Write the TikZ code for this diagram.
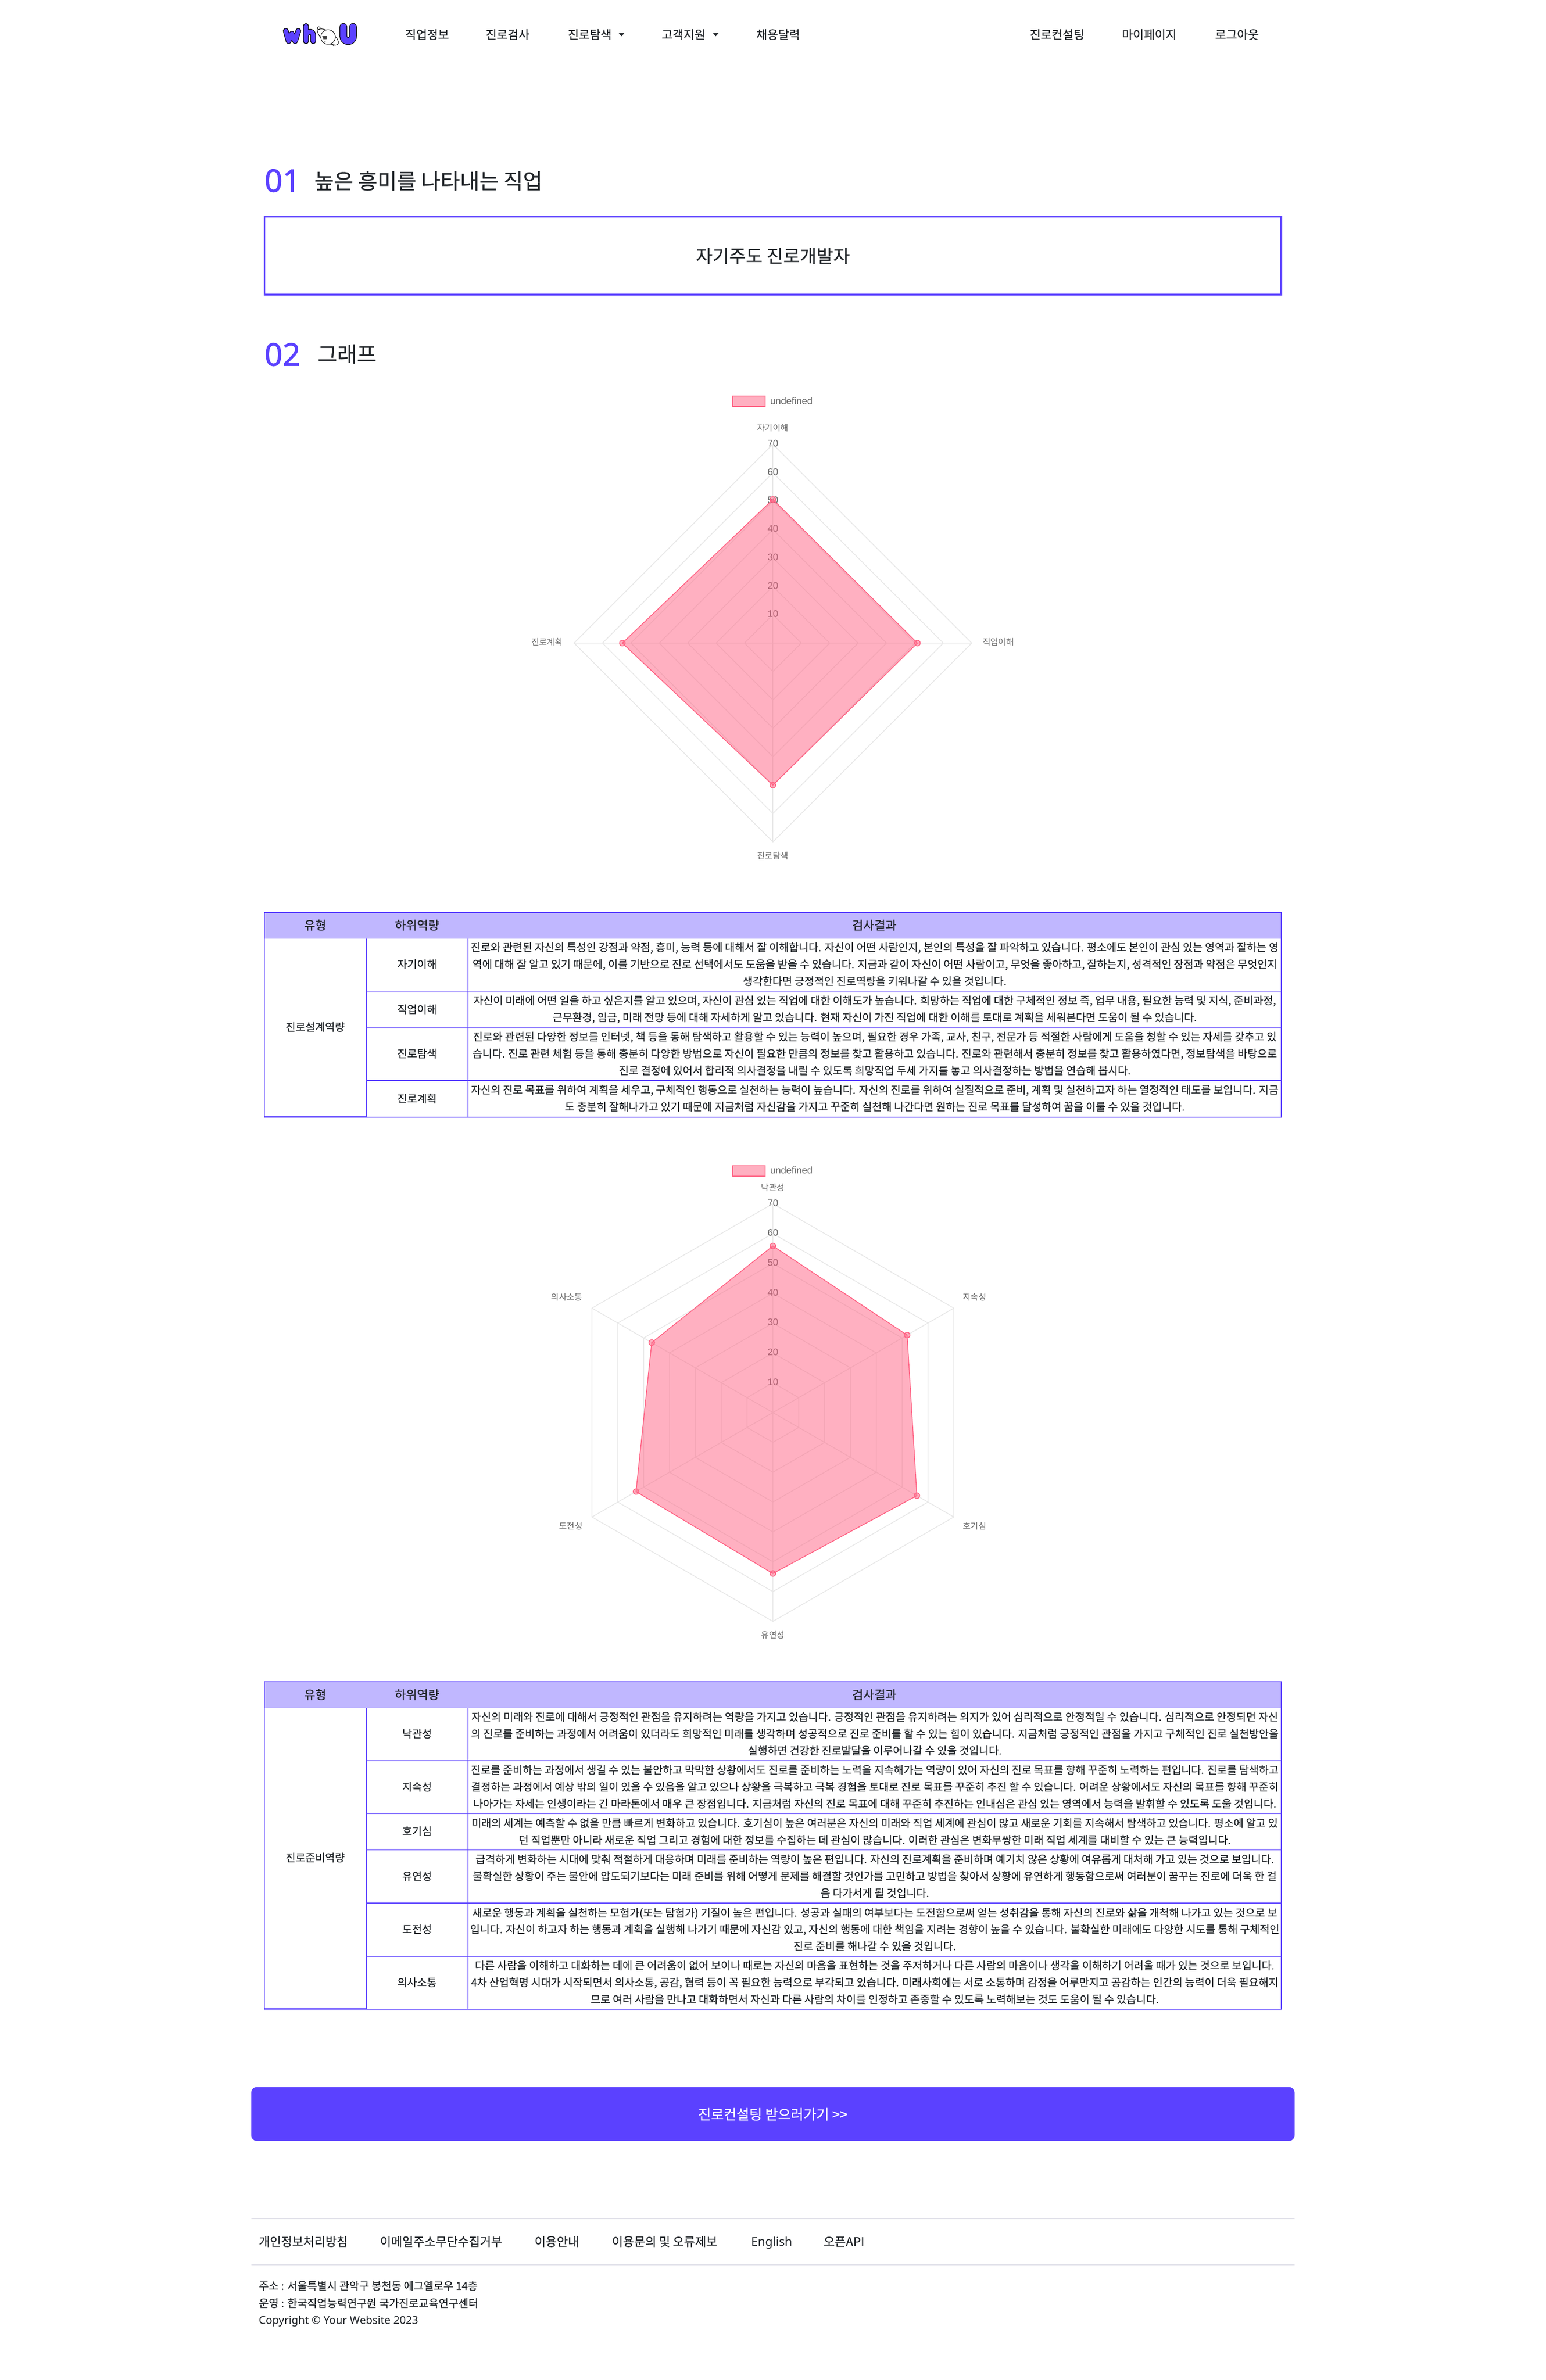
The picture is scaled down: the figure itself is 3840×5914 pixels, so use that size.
\documentclass[tikz,border=0pt]{standalone}
\usepackage{fontspec}
\setmainfont{Noto Sans}
\newfontfamily\kr{Noto Sans CJK KR}
\newfontfamily\krt[FakeBold=0.25]{Noto Sans CJK KR}
\newfontfamily\krm[FakeBold=0.6]{Noto Sans CJK KR}
\newfontfamily\lat{Noto Sans}
\newfontfamily\latm[FakeBold=1.4]{Noto Sans}
\newfontfamily\arl{Liberation Sans}
\definecolor{pur}{HTML}{5B41FF}
\definecolor{hdr}{HTML}{C0B7FF}
\definecolor{ink}{HTML}{212529}
\definecolor{pnk}{HTML}{FF6384}
\definecolor{grd}{HTML}{E8E8E8}
\definecolor{lbl}{HTML}{666666}
\definecolor{ftl}{HTML}{E2E2EA}
\tikzset{
  x=1pt,y=-1pt,
  fs/.style={font=\kr\fontsize{#1}{#1}\selectfont,inner sep=0pt,outer sep=0pt,text=ink,text height={#1*0.85pt},text depth={#1*0.11pt}},
  fst/.style={font=\krt\fontsize{#1}{#1}\selectfont,inner sep=0pt,outer sep=0pt,text=ink,text height={#1*0.85pt},text depth={#1*0.11pt}},
  fsm/.style={font=\krm\fontsize{#1}{#1}\selectfont,inner sep=0pt,outer sep=0pt,text=ink,text height={#1*0.85pt},text depth={#1*0.11pt}},
  tline/.style={fst=26.6},
  midl/.style={fst=26.6},
  hd/.style={fsm=30},
  navi/.style={fsm=29.5},
  foot/.style={fst=30,anchor=west},
  addr/.style={fst=26.8,anchor=west},
  clab/.style={font=\kr\fontsize{21}{21}\selectfont,inner sep=0pt,text=lbl},
  ctick/.style={font=\arl\fontsize{24}{24}\selectfont,inner sep=0pt,text=lbl},
  gridl/.style={draw=grd,line width=2pt},
  dataf/.style={draw=pnk,fill=pnk,fill opacity=.5,line width=2pt,line join=round},
  ptm/.style={circle,minimum size=14pt,inner sep=0pt,draw=pnk,fill=pnk,fill opacity=.5,line width=2pt},
  legb/.style={draw=pnk,fill=pnk,fill opacity=.5,line width=2pt},
  rule/.style={draw=pur,line width=2pt},
  thick rule/.style={draw=pur,line width=4pt},
  logoout/.style={draw=black,line cap=round,line join=round},
  logoin/.style={draw=pur,line cap=round,line join=round},
  logothin/.style={draw=black,line width=1.2pt},
}
\begin{document}
\begin{tikzpicture}
\useasboundingbox (0,0) rectangle (3840,5914);
\fill[white] (0,0) rectangle (3840,5914);
% logo
\foreach \st/\wa/\wb in {logoout/14/19,logoin/11/16}{
  \draw[\st,line width=\wa pt] (710,77) -- (717,102) -- (725,84) -- (733,102) -- (741,77);
  \draw[\st,line width=\wa pt] (760,65) -- (760,102) (760,88) .. controls (764,76) and (778,76) .. (778,88) -- (778,102);
  \draw[\st,line width=\wb pt] (853,67) -- (853,90) .. controls (853,106) and (877,106) .. (877,90) -- (877,67);
}
\draw[logothin,rotate around={-35:(815,92)}] (815,92) ellipse (30 and 13);
\draw[logothin,fill=white] (815,92) circle (18);
\foreach \d in {0,3,6,9,12} \draw[logothin] (801+\d*.3,90+\d) -- (812-\d*.2,90+\d);
\draw[logothin] (792,70) circle (3.5);
\draw[logothin] (828,111) circle (2);
% nav
\node[navi] (n1) at (1061,86) {직업정보};
\node[navi] (n2) at (1261,86) {진로검사};
\node[navi] (n3) at (1465,86) {진로탐색};
\node[navi] (n4) at (1698,86) {고객지원};
\node[navi] (n5) at (1933,86) {채용달력};
\node[navi] (n6) at (2626,86) {진로컨설팅};
\node[navi] (n7) at (2855,86) {마이페이지};
\node[navi] (n8) at (3073,86) {로그아웃};
\fill[ink] (1537,82) -- (1551,82) -- (1544,90) -- cycle;
\fill[ink] (1771,82) -- (1785,82) -- (1778,90) -- cycle;
% headings
\node[font=\latm\fontsize{78}{78}\selectfont,text=pur,inner sep=0pt,anchor=west] (h1n) at (657,449) {01};
\node[fsm=52.5,anchor=west] (h1t) at (781,450) {높은 흥미를 나타내는 직업};
\draw[thick rule] (657,538) rectangle (3183,732);
\node[fst=45] (job) at (1920,636) {자기주도 진로개발자};
\node[font=\latm\fontsize{78}{78}\selectfont,text=pur,inner sep=0pt,anchor=west] (h2n) at (657,881) {02};
\node[fsm=53,anchor=west] (h2t) at (789,880) {그래프};
% chart 1
\begin{scope}[shift={(1920,1598)}]
\foreach \r in {70.6,141.1,211.7,282.3,352.9,423.4,494}
  \draw[gridl] (0,-\r) -- (\r,0) -- (0,\r) -- (-\r,0) -- cycle;
\draw[gridl] (0,-494) -- (0,494) (-494,0) -- (494,0);
\foreach \v/\r in {10/70.6,20/141.1,30/211.7,40/282.3,50/352.9,60/423.4,70/494}
  \node[ctick] (ca\v) at (0,-\r-2) {\v};
\coordinate (a1) at (0,-357);
\coordinate (a2) at (359,0);
\coordinate (a3) at (0,353);
\coordinate (a4) at (-374,0);
\draw[dataf] (a1) -- (a2) -- (a3) -- (a4) -- cycle;
\foreach \p in {a1,a2,a3,a4} \node[ptm] at (\p) {};
\end{scope}
\node[clab] (cal1) at (1920,1063) {자기이해};
\node[clab] (cal2) at (2480,1595) {직업이해};
\node[clab] (cal3) at (1920,2127) {진로탐색};
\node[clab] (cal4) at (1359,1595) {진로계획};
\path[legb] (1820,984) rectangle (1901,1010);
\node[ctick,anchor=west] (leg1) at (1913,996) {undefined};
% table 1
\fill[hdr] (657,2267) rectangle (3183,2332);
\draw[rule] (657,2267) -- (3183,2267) -- (3183,2776) -- (911,2776);
\draw[rule] (657,2267) -- (657,2776);
\draw[draw=pur,line width=3.5pt] (657,2775) -- (911,2775);
\draw[rule] (911,2332) -- (911,2776) (1163,2332) -- (1163,2776);
\foreach \y in {2463,2553,2685} \draw[rule] (911,\y) -- (3183,\y);
\node[hd] (t1h1) at (783,2299) {유형};
\node[hd] (t1h2) at (1036,2299) {하위역량};
\node[hd] (t1h3) at (2172,2299) {검사결과};
\node[midl] (t1a) at (783,2552) {진로설계역량};
\node[midl] (t1b1) at (1036,2396) {자기이해};
\node[midl] (t1b2) at (1036,2508) {직업이해};
\node[midl] (t1b3) at (1036,2618) {진로탐색};
\node[midl] (t1b4) at (1036,2730) {진로계획};
\node[tline] (l1) at (2173,2354) {진로와 관련된 자신의 특성인 강점과 약점, 흥미, 능력 등에 대해서 잘 이해합니다. 자신이 어떤 사람인지, 본인의 특성을 잘 파악하고 있습니다. 평소에도 본인이 관심 있는 영역과 잘하는 영};
\node[tline] (l2) at (2173,2396) {역에 대해 잘 알고 있기 때문에, 이를 기반으로 진로 선택에서도 도움을 받을 수 있습니다. 지금과 같이 자신이 어떤 사람이고, 무엇을 좋아하고, 잘하는지, 성격적인 장점과 약점은 무엇인지};
\node[tline] (l3) at (2173,2438) {생각한다면 긍정적인 진로역량을 키워나갈 수 있을 것입니다.};
\node[tline] (l4) at (2173,2486) {자신이 미래에 어떤 일을 하고 싶은지를 알고 있으며, 자신이 관심 있는 직업에 대한 이해도가 높습니다. 희망하는 직업에 대한 구체적인 정보 즉, 업무 내용, 필요한 능력 및 지식, 준비과정,};
\node[tline] (l5) at (2173,2528) {근무환경, 임금, 미래 전망 등에 대해 자세하게 알고 있습니다. 현재 자신이 가진 직업에 대한 이해를 토대로 계획을 세워본다면 도움이 될 수 있습니다.};
\node[tline] (l6) at (2173,2576) {진로와 관련된 다양한 정보를 인터넷, 책 등을 통해 탐색하고 활용할 수 있는 능력이 높으며, 필요한 경우 가족, 교사, 친구, 전문가 등 적절한 사람에게 도움을 청할 수 있는 자세를 갖추고 있};
\node[tline] (l7) at (2173,2618) {습니다. 진로 관련 체험 등을 통해 충분히 다양한 방법으로 자신이 필요한 만큼의 정보를 찾고 활용하고 있습니다. 진로와 관련해서 충분히 정보를 찾고 활용하였다면, 정보탐색을 바탕으로};
\node[tline] (l8) at (2173,2660) {진로 결정에 있어서 합리적 의사결정을 내릴 수 있도록 희망직업 두세 가지를 놓고 의사결정하는 방법을 연습해 봅시다.};
\node[tline] (l9) at (2173,2708) {자신의 진로 목표를 위하여 계획을 세우고, 구체적인 행동으로 실천하는 능력이 높습니다. 자신의 진로를 위하여 실질적으로 준비, 계획 및 실천하고자 하는 열정적인 태도를 보입니다. 지금};
\node[tline] (l10) at (2173,2750) {도 충분히 잘해나가고 있기 때문에 지금처럼 자신감을 가지고 꾸준히 실천해 나간다면 원하는 진로 목표를 달성하여 꿈을 이룰 수 있을 것입니다.};
% chart 2
\begin{scope}[shift={(1920,3510)}]
\foreach \r in {74.1,148.3,222.4,296.6,370.7,444.9,519}
  \draw[gridl] (0,-\r) -- ({.866*\r},{-.5*\r}) -- ({.866*\r},{.5*\r}) -- (0,\r) -- ({-.866*\r},{.5*\r}) -- ({-.866*\r},{-.5*\r}) -- cycle;
\draw[gridl] (0,-519) -- (0,519) (-449.5,-259.5) -- (449.5,259.5) (449.5,-259.5) -- (-449.5,259.5);
\foreach \v/\r in {10/74.1,20/148.3,30/222.4,40/296.6,50/370.7,60/444.9,70/519}
  \node[ctick] (cb\v) at (0,-\r-2) {\v};
\coordinate (b1) at (0,-414);
\coordinate (b2) at (333.4,-192.5);
\coordinate (b3) at (357.7,206.5);
\coordinate (b4) at (0,400);
\coordinate (b5) at (-340,196.3);
\coordinate (b6) at (-301,-173.8);
\draw[dataf] (b1) -- (b2) -- (b3) -- (b4) -- (b5) -- (b6) -- cycle;
\foreach \p in {b1,b2,b3,b4,b5,b6} \node[ptm] at (\p) {};
\end{scope}
\node[clab] (cbl1) at (1920,2951) {낙관성};
\node[clab] (cbl2) at (2421,3223) {지속성};
\node[clab] (cbl3) at (2421,3792) {호기심};
\node[clab] (cbl4) at (1920,4063) {유연성};
\node[clab] (cbl5) at (1418,3792) {도전성};
\node[clab] (cbl6) at (1408,3223) {의사소통};
\path[legb] (1820,2897) rectangle (1901,2923);
\node[ctick,anchor=west] (leg2) at (1913,2908) {undefined};
% table 2
\fill[hdr] (657,4179) rectangle (3183,4244);
\draw[rule] (657,4179) -- (3183,4179) -- (3183,4993) -- (911,4993);
\draw[rule] (657,4179) -- (657,4993);
\draw[draw=pur,line width=3.5pt] (657,4992) -- (911,4992);
\draw[rule] (911,4244) -- (911,4993) (1163,4244) -- (1163,4993);
\foreach \y in {4375,4507,4597,4729,4861} \draw[rule] (911,\y) -- (3183,\y);
\node[hd] (t2h1) at (783,4211) {유형};
\node[hd] (t2h2) at (1036,4211) {하위역량};
\node[hd] (t2h3) at (2172,4211) {검사결과};
\node[midl] (t2a) at (783,4616) {진로준비역량};
\node[midl] (t2b1) at (1036,4308) {낙관성};
\node[midl] (t2b2) at (1036,4440) {지속성};
\node[midl] (t2b3) at (1036,4550) {호기심};
\node[midl] (t2b4) at (1036,4662) {유연성};
\node[midl] (t2b5) at (1036,4794) {도전성};
\node[midl] (t2b6) at (1036,4926) {의사소통};
\node[tline] (m1) at (2173,4266) {자신의 미래와 진로에 대해서 긍정적인 관점을 유지하려는 역량을 가지고 있습니다. 긍정적인 관점을 유지하려는 의지가 있어 심리적으로 안정적일 수 있습니다. 심리적으로 안정되면 자신};
\node[tline] (m2) at (2173,4308) {의 진로를 준비하는 과정에서 어려움이 있더라도 희망적인 미래를 생각하며 성공적으로 진로 준비를 할 수 있는 힘이 있습니다. 지금처럼 긍정적인 관점을 가지고 구체적인 진로 실천방안을};
\node[tline] (m3) at (2173,4350) {실행하면 건강한 진로발달을 이루어나갈 수 있을 것입니다.};
\node[tline] (m4) at (2173,4398) {진로를 준비하는 과정에서 생길 수 있는 불안하고 막막한 상황에서도 진로를 준비하는 노력을 지속해가는 역량이 있어 자신의 진로 목표를 향해 꾸준히 노력하는 편입니다. 진로를 탐색하고};
\node[tline] (m5) at (2173,4440) {결정하는 과정에서 예상 밖의 일이 있을 수 있음을 알고 있으나 상황을 극복하고 극복 경험을 토대로 진로 목표를 꾸준히 추진 할 수 있습니다. 어려운 상황에서도 자신의 목표를 향해 꾸준히};
\node[tline] (m6) at (2173,4482) {나아가는 자세는 인생이라는 긴 마라톤에서 매우 큰 장점입니다. 지금처럼 자신의 진로 목표에 대해 꾸준히 추진하는 인내심은 관심 있는 영역에서 능력을 발휘할 수 있도록 도울 것입니다.};
\node[tline] (m7) at (2173,4530) {미래의 세계는 예측할 수 없을 만큼 빠르게 변화하고 있습니다. 호기심이 높은 여러분은 자신의 미래와 직업 세계에 관심이 많고 새로운 기회를 지속해서 탐색하고 있습니다. 평소에 알고 있};
\node[tline] (m8) at (2173,4572) {던 직업뿐만 아니라 새로운 직업 그리고 경험에 대한 정보를 수집하는 데 관심이 많습니다. 이러한 관심은 변화무쌍한 미래 직업 세계를 대비할 수 있는 큰 능력입니다.};
\node[tline] (m9) at (2173,4620) {급격하게 변화하는 시대에 맞춰 적절하게 대응하며 미래를 준비하는 역량이 높은 편입니다. 자신의 진로계획을 준비하며 예기치 않은 상황에 여유롭게 대처해 가고 있는 것으로 보입니다.};
\node[tline] (m10) at (2173,4662) {불확실한 상황이 주는 불안에 압도되기보다는 미래 준비를 위해 어떻게 문제를 해결할 것인가를 고민하고 방법을 찾아서 상황에 유연하게 행동함으로써 여러분이 꿈꾸는 진로에 더욱 한 걸};
\node[tline] (m11) at (2173,4704) {음 다가서게 될 것입니다.};
\node[tline] (m12) at (2173,4753) {새로운 행동과 계획을 실천하는 모험가(또는 탐험가) 기질이 높은 편입니다. 성공과 실패의 여부보다는 도전함으로써 얻는 성취감을 통해 자신의 진로와 삶을 개척해 나가고 있는 것으로 보};
\node[tline] (m13) at (2173,4794) {입니다. 자신이 하고자 하는 행동과 계획을 실행해 나가기 때문에 자신감 있고, 자신의 행동에 대한 책임을 지려는 경향이 높을 수 있습니다. 불확실한 미래에도 다양한 시도를 통해 구체적인};
\node[tline] (m14) at (2173,4836) {진로 준비를 해나갈 수 있을 것입니다.};
\node[tline] (m15) at (2173,4884) {다른 사람을 이해하고 대화하는 데에 큰 어려움이 없어 보이나 때로는 자신의 마음을 표현하는 것을 주저하거나 다른 사람의 마음이나 생각을 이해하기 어려울 때가 있는 것으로 보입니다.};
\node[tline] (m16) at (2173,4926) {4차 산업혁명 시대가 시작되면서 의사소통, 공감, 협력 등이 꼭 필요한 능력으로 부각되고 있습니다. 미래사회에는 서로 소통하며 감정을 어루만지고 공감하는 인간의 능력이 더욱 필요해지};
\node[tline] (m17) at (2173,4968) {므로 여러 사람을 만나고 대화하면서 자신과 다른 사람의 차이를 인정하고 존중할 수 있도록 노력해보는 것도 도움이 될 수 있습니다.};
% button
\fill[pur,rounded corners=14pt] (624,5186) rectangle (3216,5320);
\node[fsm=34.5,text=white] (btn) at (1920,5254) {진로컨설팅 받으러가기 >>};
% footer
\draw[ftl,line width=3pt] (624,5513) -- (3216,5513);
\draw[ftl,line width=3pt] (624,5627) -- (3216,5627);
\node[foot] (f1) at (643,5570) {개인정보처리방침};
\node[foot] (f2) at (944,5570) {이메일주소무단수집거부};
\node[foot] (f3) at (1328,5570) {이용안내};
\node[foot] (f4) at (1520,5570) {이용문의 및 오류제보};
\node[foot,font=\lat\fontsize{30}{30}\selectfont] (f5) at (1866,5570) {English};
\node[foot] (f6) at (2046,5570) {오픈API};
\node[addr] (a1t) at (643,5680) {주소 : 서울특별시 관악구 봉천동 에그옐로우 14층};
\node[addr] (a2t) at (643,5723) {운영 : 한국직업능력연구원 국가진로교육연구센터};
\node[addr,font=\lat\fontsize{27}{27}\selectfont] (a3t) at (643,5765) {Copyright © Your Website 2023};
\end{tikzpicture}
\end{document}
